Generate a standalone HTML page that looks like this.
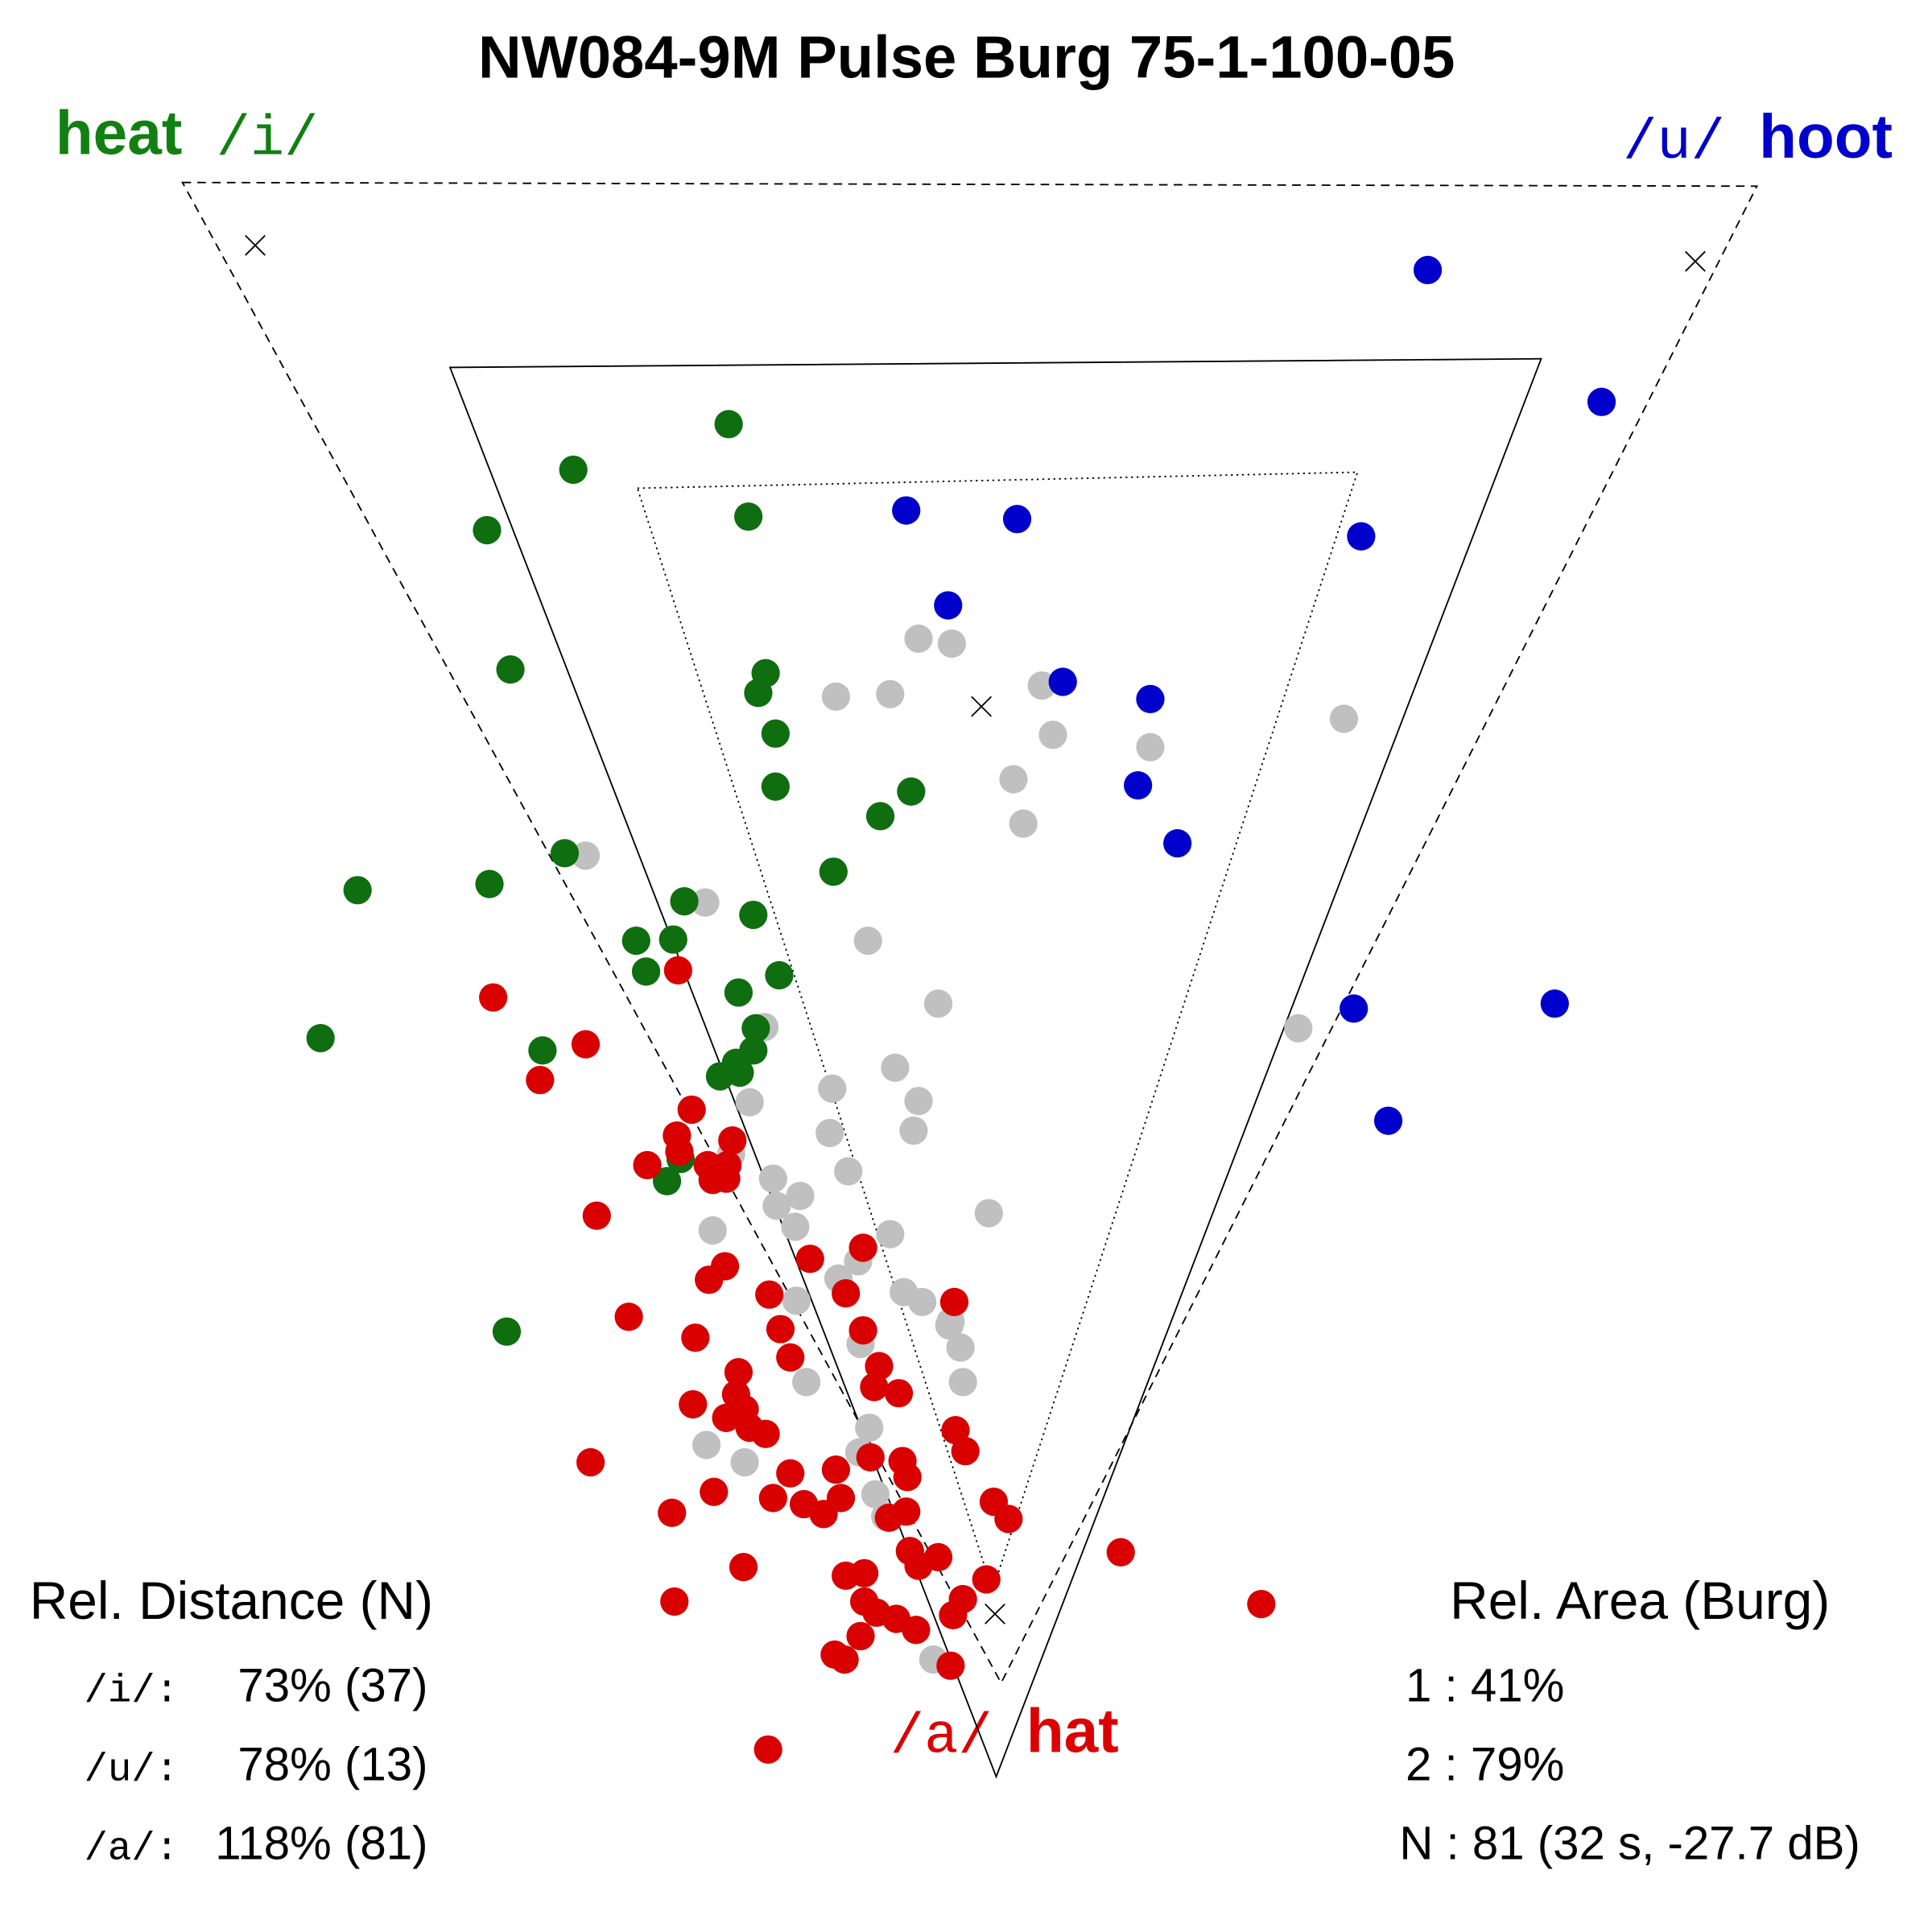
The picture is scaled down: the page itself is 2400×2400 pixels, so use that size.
<!DOCTYPE html>
<html><head><style>html,body{margin:0;padding:0;background:#fff}svg{display:block}</style></head>
<body>
<svg width="2400" height="2400" viewBox="0 0 1567 1567" xmlns="http://www.w3.org/2000/svg" font-family="Liberation Sans, sans-serif">
<rect width="1567" height="1567" fill="#fff"/>
<text x="784" y="63" text-anchor="middle" font-size="48.5" font-weight="bold">NW084-9M Pulse Burg 75-1-100-05</text>
<text x="45" y="125" font-size="50" fill="#118011"><tspan font-weight="bold">heat</tspan><tspan font-family="Liberation Mono, monospace" font-size="46"> /i/</tspan></text>
<text x="1535" y="128" text-anchor="end" font-size="50" fill="#0000cc"><tspan font-family="Liberation Mono, monospace" font-size="46">/u/ </tspan><tspan font-weight="bold">hoot</tspan></text>
<text x="722" y="1421" font-size="50" fill="#dd0000"><tspan font-family="Liberation Mono, monospace" font-size="46">/a/ </tspan><tspan font-weight="bold">hat</tspan></text>
<polygon points="148,148 1425,151 812,1365" fill="none" stroke="#000" stroke-width="1.2" stroke-dasharray="7,5"/>
<polygon points="365,298 1250,291 808,1441" fill="none" stroke="#000" stroke-width="1.2"/>
<polygon points="517,396 1101,383 805,1290" fill="none" stroke="#000" stroke-width="1.2" stroke-dasharray="1.5,3"/>
<g stroke="#000" stroke-width="1.2">
<path d="M199,191l16,16M215,191l-16,16"/><path d="M1367,204l16,16M1383,204l-16,16"/><path d="M788,565l16,16M804,565l-16,16"/><path d="M799,1301l16,16M815,1301l-16,16"/>
</g>
<g id="svgp"></g>
<text x="24" y="1313" font-size="43">Rel. Distance (N)</text>
<g font-size="32" font-family="Liberation Mono, monospace" text-anchor="end"><text x="145" y="1380">/i/:</text><text x="145" y="1444">/u/:</text><text x="145" y="1508">/a/:</text></g>
<g font-size="38" text-anchor="end"><text x="347" y="1380">73% (37)</text><text x="347" y="1444">78% (13)</text><text x="347" y="1508">118% (81)</text></g>
<text x="1176" y="1313" font-size="43">Rel. Area (Burg)</text>
<g font-size="38"><text x="1140" y="1380">1 : 41%</text><text x="1140" y="1444">2 : 79%</text><text x="1135" y="1508">N : 81 (32 s, -27.7 dB)</text></g>
</svg>
<script>
var gray=[745,518,772,522,678,565,722,563,845,556,854,596,933,606,1090,583,822,632,830,668,475,694,572,732,704,763,761,814,620,833,1053,834,726,866,675,883,608,894,745,893,741,917,673,919,688,950,593,936,627,956,649,970,630,978,645,995,578,998,722,1001,802,984,696,1023,680,1037,646,1055,733,1048,748,1056,770,1075,779,1093,698,1090,781,1121,654,1121,705,1158,697,1178,573,1172,604,1186,710,1212,718,1230,757,1346,771,1072];
var green=[591,344,465,381,395,430,607,419,414,543,621,546,615,562,629,595,629,638,739,642,714,662,458,692,676,707,290,722,397,717,555,731,611,742,516,763,546,762,524,788,632,791,599,805,613,834,260,842,440,852,611,852,597,862,584,873,600,870,552,940,541,958,411,1080];
var blue=[1158,219,1299,326,735,414,825,421,1104,435,769,491,862,553,933,567,923,637,955,684,1098,818,1261,814,1126,909];
var red=[550,787,400,809,475,847,438,876,561,900,549,921,594,925,551,934,525,945,574,945,590,945,589,956,578,957,484,986,700,1012,657,1021,588,1027,575,1038,624,1050,686,1049,774,1056,510,1068,633,1078,700,1079,564,1085,641,1101,599,1113,713,1108,709,1125,729,1130,597,1131,562,1139,604,1143,589,1150,608,1158,621,1163,775,1160,783,1177,479,1186,732,1185,706,1182,678,1192,736,1198,641,1195,579,1210,682,1215,627,1215,652,1220,668,1228,806,1218,818,1232,545,1227,735,1226,721,1231,738,1258,761,1263,745,1270,909,1259,603,1271,686,1278,701,1276,800,1281,781,1297,773,1310,547,1299,701,1299,711,1308,727,1313,743,1322,698,1327,677,1342,685,1346,771,1351,623,1419,1023,1301];
var ns='http://www.w3.org/2000/svg',g=document.getElementById('svgp');
function add(p,c){for(var i=0;i<p.length;i+=2){var e=document.createElementNS(ns,'circle');e.setAttribute('cx',p[i]);e.setAttribute('cy',p[i+1]);e.setAttribute('r','11.5');e.setAttribute('fill',c);g.appendChild(e);}}
add(gray,'#c0c0c0');add(green,'#0f6e0f');add(blue,'#0000cc');add(red,'#d80000');
</script>
</body></html>
